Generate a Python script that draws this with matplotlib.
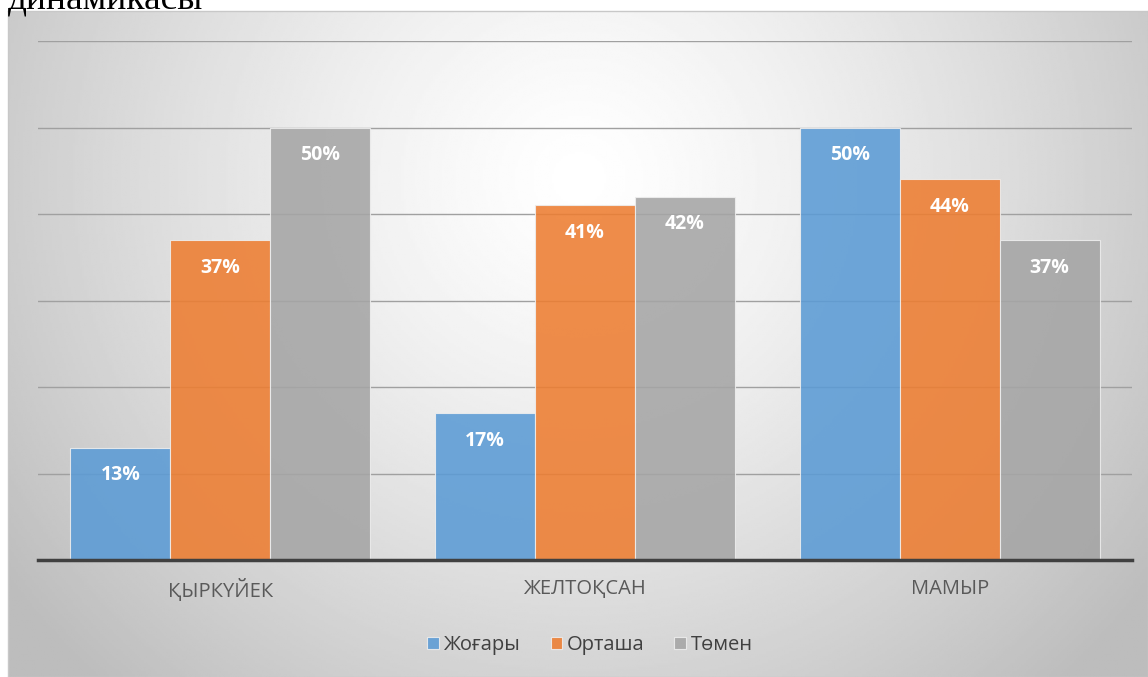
import numpy as np
import matplotlib.pyplot as plt

# data
categories = ["ҚЫРКҮЙЕК", "ЖЕЛТОҚСАН", "МАМЫР"]
series_names = ["Жоғары", "Орташа", "Төмен"]
high = [13, 17, 50]
mid = [37, 41, 44]
low = [50, 42, 37]
colors = ["#5B9BD5", "#ED7D31", "#A5A5A5"]

plt.rcParams['font.family'] = ['Open Sans', 'DejaVu Sans']

W, H = 1148, 677
fig = plt.figure(figsize=(W / 100, H / 100), dpi=100)
fig.patch.set_facecolor("white")

# radial gradient background of the chart area
bg = fig.add_axes([8 / W, 0, 1 - 8 / W, (H - 11) / H], zorder=0)
ny, nx = 300, 500
yy, xx = np.mgrid[0:ny, 0:nx]
cx, cy = 0.50 * nx, 0.25 * ny
r = np.sqrt(((xx - cx) / (0.62 * nx)) ** 2 + ((yy - cy) / (0.62 * nx)) ** 2)
r = np.clip(r, 0, 1)
shade = 1.0 - 0.26 * r ** 1.3
bg.imshow(shade, cmap="gray", vmin=0, vmax=1, aspect="auto", extent=[0, 1, 0, 1], origin="upper")
bg.set_xticks([])
bg.set_yticks([])
for s in bg.spines.values():
    s.set_color("#c8c8c8")
    s.set_linewidth(1)

# heading above the chart (cut off at the top, as in the source)
fig.text(8 / W, 1 - 8 / H, "динамикасы", family="Liberation Serif", fontsize=27,
         color="black", ha="left", va="baseline")

ax = fig.add_axes([38 / W, 117 / H, (1132 - 38) / W, (560 - 41) / H], zorder=1)
ax.patch.set_alpha(0)

x = np.arange(len(categories))
bw = 0.274
for i, (vals, name, c) in enumerate(zip([high, mid, low], series_names, colors)):
    pos = x + (i - 1) * bw
    bars = ax.bar(pos, vals, bw, color=c, alpha=0.88, edgecolor="#eeeeee",
                  linewidth=0.8, label=name, zorder=3)
    for b, v in zip(bars, vals):
        ax.annotate(f"{v}%", (b.get_x() + b.get_width() / 2, v), xytext=(0, -20),
                    textcoords="offset points", ha="center", va="center",
                    color="white", fontsize=14, fontweight="bold", zorder=4)

ax.set_ylim(0, 60)
ax.set_xlim(-0.5, 2.5)
ax.set_yticks(np.arange(10, 61, 10))
ax.yaxis.grid(True, color="#a0a0a0", linewidth=1, zorder=0)
ax.tick_params(axis="y", length=0, labelleft=False)
ax.tick_params(axis="x", length=0, pad=14, labelsize=14.5, labelcolor="#595959")
ax.set_xticks(x)
ax.set_xticklabels(categories)
for s in ["top", "right", "left"]:
    ax.spines[s].set_visible(False)
ax.spines["bottom"].set_color("#404040")
ax.spines["bottom"].set_linewidth(2.5)
ax.spines["bottom"].set_zorder(5)

leg = fig.legend(loc="center", bbox_to_anchor=(590 / W, 1 - 645 / H), ncol=3,
                 frameon=False, fontsize=14.5, handlelength=0.55, handleheight=0.55,
                 handletextpad=0.25, columnspacing=1.5)
for t in leg.get_texts():
    t.set_color("#404040")

fig.savefig("out.png", dpi=100)
